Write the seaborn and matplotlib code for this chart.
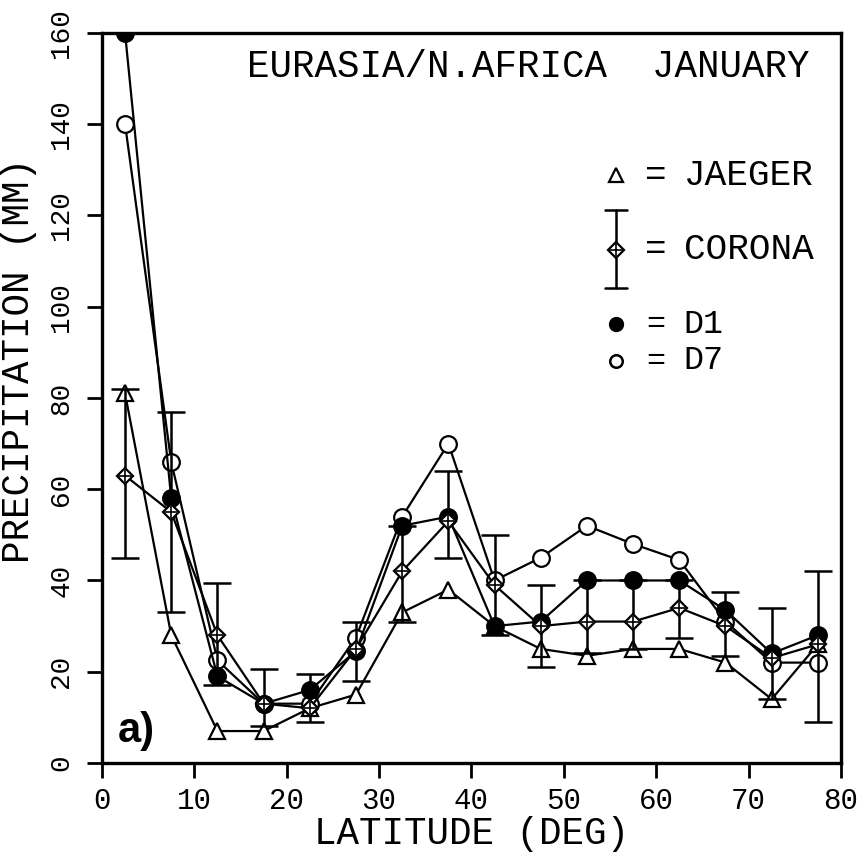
import matplotlib
matplotlib.use("Agg")
import matplotlib.pyplot as plt
import numpy as np
import pandas as pd
import seaborn as sns

# Zonal-mean January precipitation over Eurasia / North Africa
latitude = [2.5, 7.5, 12.5, 17.5, 22.5, 27.5, 32.5, 37.5,
            42.5, 47.5, 52.5, 57.5, 62.5, 67.5, 72.5, 77.5]
jaeger = [81, 28, 7, 7, 12, 15, 33, 38, 30, 25, 23.5, 25, 25, 22, 14, 26]
corona = [63, 55, 28, 13, 12, 25, 42, 53, 39, 30, 31, 31, 34, 30, 23, 26]
corona_low = [45, 33, 17, 8, 9, 18, 31, 45, 28, 21, 24, 25, 27.5, 23.5, 14, 9]
corona_high = [82, 77, 39.5, 20.5, 19.5, 31, 52, 64, 50, 39, 40, 40, 40, 37.5, 34, 42]
d1 = [160, 58, 19, 13, 16, 24.5, 52, 54, 30, 31, 40, 40, 40, 33.5, 24, 28]
d7 = [140, 66, 22.5, 13, 13, 27.5, 54, 70, 40, 45, 52, 48, 44.5, 31, 22, 22]

x_ticks = [0, 10, 20, 30, 40, 50, 60, 70, 80]
y_ticks = [0, 20, 40, 60, 80, 100, 120, 140, 160]

df = pd.DataFrame({"lat": latitude, "JAEGER": jaeger, "CORONA": corona,
                   "D1": d1, "D7": d7})

sns.set_style("ticks")
MONO = ["Liberation Mono", "DejaVu Sans Mono"]
plt.rcParams["font.family"] = MONO
plt.rcParams["text.color"] = "black"
plt.rcParams["axes.labelcolor"] = "black"
plt.rcParams["xtick.color"] = "black"
plt.rcParams["ytick.color"] = "black"

fig = plt.figure(figsize=(8.59, 8.57), dpi=100)
ax = fig.add_axes([0.1187, 0.1097, 0.8603, 0.8518])

LW = 1.6
common = dict(color="black", linewidth=LW, markeredgecolor="black",
              markeredgewidth=1.6, ax=ax, legend=False)

sns.lineplot(data=df, x="lat", y="JAEGER", marker="^", markersize=12,
             markerfacecolor="white", zorder=3, **common)
sns.lineplot(data=df, x="lat", y="D7", marker="o", markersize=12,
             markerfacecolor="white", zorder=4, **common)
sns.lineplot(data=df, x="lat", y="D1", marker="o", markersize=12,
             markerfacecolor="black", zorder=5, **common)

# CORONA with its range bars
corona_arr = np.array(corona)
yerr = [corona_arr - np.array(corona_low), np.array(corona_high) - corona_arr]
ax.errorbar(latitude, corona, yerr=yerr, fmt="none", ecolor="black",
            elinewidth=1.8, capsize=10, capthick=1.8, zorder=6)
sns.lineplot(data=df, x="lat", y="CORONA", marker="D", markersize=8,
             markerfacecolor="white", zorder=6, **common)
ax.plot(latitude, corona, linestyle="none", marker="+", markersize=8,
        markeredgewidth=1.2, color="black", zorder=7)

ax.set_xlim(0, 80)
ax.set_ylim(0, 160)
ax.set_xticks(x_ticks)
ax.set_yticks(y_ticks)
ax.set_xticklabels([str(v) for v in x_ticks], fontsize=21)
ax.set_yticklabels([str(v) for v in y_ticks], fontsize=20, rotation=90,
                   va="center")
ax.tick_params(axis="both", direction="out", length=11, width=2,
               color="black")
ax.tick_params(axis="x", pad=6)
ax.tick_params(axis="y", pad=9)
for s in ax.spines.values():
    s.set_linewidth(2.4)
    s.set_color("black")
    s.set_visible(True)

ax.set_xlabel("LATITUDE (DEG)", fontsize=27, va="center")
ax.xaxis.set_label_coords(0.5, -0.097)
ax.set_ylabel("PRECIPITATION (MM)", fontsize=27, va="center")
ax.yaxis.set_label_coords(-0.112, 0.551)

ax.text(0.958, 0.953, "EURASIA/N.AFRICA  JANUARY", transform=ax.transAxes,
        ha="right", va="center", fontsize=27)

# Legend keys
tr = ax.transAxes
kx, eqx, tx = 0.696, 0.749, 0.787
ax.plot([kx], [0.805], transform=tr, marker="^", markersize=10,
        mfc="white", mec="black", mew=1.6, clip_on=False)
ax.text(eqx, 0.805, "=", transform=tr, ha="center", va="center", fontsize=26)
ax.text(tx, 0.805, "JAEGER", transform=tr, ha="left", va="center", fontsize=26)

ax.plot([kx, kx], [0.651, 0.758], transform=tr, color="black", lw=1.8)
ax.plot([kx - 0.015, kx + 0.015], [0.758, 0.758], transform=tr, color="black", lw=1.8)
ax.plot([kx - 0.015, kx + 0.015], [0.651, 0.651], transform=tr, color="black", lw=1.8)
ax.plot([kx], [0.703], transform=tr, marker="D", markersize=8,
        mfc="white", mec="black", mew=1.6)
ax.plot([kx], [0.703], transform=tr, marker="+", markersize=8,
        mew=1.2, color="black")
ax.text(eqx, 0.703, "=", transform=tr, ha="center", va="center", fontsize=26)
ax.text(tx, 0.703, "CORONA", transform=tr, ha="left", va="center", fontsize=26)

ax.plot([kx], [0.601], transform=tr, marker="o", markersize=10,
        mfc="black", mec="black")
ax.text(eqx, 0.601, "=", transform=tr, ha="center", va="center", fontsize=23)
ax.text(tx, 0.601, "D1", transform=tr, ha="left", va="center", fontsize=24)

ax.plot([kx], [0.551], transform=tr, marker="o", markersize=9,
        mfc="white", mec="black", mew=1.8)
ax.text(eqx, 0.551, "=", transform=tr, ha="center", va="center", fontsize=23)
ax.text(tx, 0.551, "D7", transform=tr, ha="left", va="center", fontsize=24)

ax.text(0.022, 0.044, "a)", transform=tr, ha="left", va="center",
        fontsize=30, fontweight="bold", family=["Liberation Sans"])

fig.savefig("out.png", dpi=100)
